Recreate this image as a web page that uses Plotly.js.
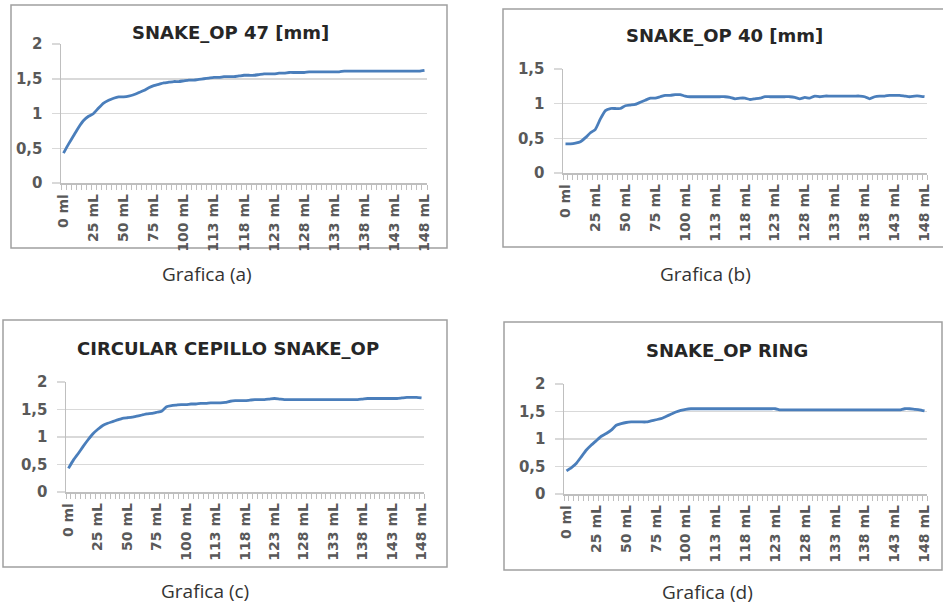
<!DOCTYPE html>
<html>
<head>
<meta charset="utf-8">
<script src="https://cdn.plot.ly/plotly-3.0.1.min.js"></script>
<style>html,body{margin:0;padding:0;background:#fff;}#chart{width:943px;height:607px;}</style>
</head>
<body>
<div id="chart"></div>
<script>
// ---- data ----
const tickLabels = ["0 ml","25 mL","50 mL","75 mL","100 mL","113 mL","118 mL","123 mL","128 mL","133 mL","138 mL","143 mL","148 mL"];
const tickIdx = [0,6,12,18,24,30,36,42,48,54,60,66,72];

const snakeOp47 = [0.43,0.56,0.68,0.80,0.90,0.96,1.00,1.08,1.15,1.19,1.22,1.24,1.24,1.25,1.27,1.30,1.33,1.37,1.40,1.42,
  1.44,1.45,1.46,1.46,1.47,1.48,1.48,1.49,1.50,1.51,1.52,1.52,1.53,1.53,1.53,1.54,1.55,1.55,1.55,1.56,
  1.57,1.57,1.57,1.58,1.58,1.59,1.59,1.59,1.59,1.60,1.60,1.60,1.60,1.60,1.60,1.60,1.61,1.61,1.61,1.61,
  1.61,1.61,1.61,1.61,1.61,1.61,1.61,1.61,1.61,1.61,1.61,1.61,1.62];

const snakeOp40 = [0.42,0.42,0.43,0.45,0.51,0.58,0.63,0.78,0.90,0.93,0.93,0.93,0.97,0.98,0.99,1.02,1.05,1.08,1.08,1.10,
  1.12,1.12,1.13,1.13,1.11,1.10,1.10,1.10,1.10,1.10,1.10,1.10,1.10,1.09,1.07,1.08,1.08,1.06,1.07,1.08,
  1.10,1.10,1.10,1.10,1.10,1.10,1.09,1.07,1.09,1.08,1.11,1.10,1.11,1.11,1.11,1.11,1.11,1.11,1.11,1.11,
  1.10,1.07,1.10,1.11,1.11,1.12,1.12,1.12,1.11,1.10,1.11,1.11,1.10];

const circularCepillo = [0.43,0.58,0.70,0.83,0.95,1.06,1.14,1.21,1.25,1.28,1.31,1.34,1.35,1.36,1.38,1.40,1.42,1.43,1.45,1.47,
  1.55,1.57,1.58,1.59,1.59,1.60,1.60,1.61,1.61,1.62,1.62,1.62,1.63,1.65,1.66,1.66,1.66,1.67,1.68,1.68,
  1.68,1.69,1.70,1.69,1.68,1.68,1.68,1.68,1.68,1.68,1.68,1.68,1.68,1.68,1.68,1.68,1.68,1.68,1.68,1.68,
  1.69,1.70,1.70,1.70,1.70,1.70,1.70,1.70,1.71,1.72,1.72,1.72,1.71];

const snakeOpRing = [0.42,0.48,0.56,0.68,0.80,0.89,0.97,1.05,1.10,1.16,1.25,1.28,1.30,1.31,1.31,1.31,1.31,1.33,1.35,1.37,
  1.41,1.45,1.49,1.52,1.54,1.55,1.55,1.55,1.55,1.55,1.55,1.55,1.55,1.55,1.55,1.55,1.55,1.55,1.55,1.55,
  1.55,1.55,1.55,1.53,1.53,1.53,1.53,1.53,1.53,1.53,1.53,1.53,1.53,1.53,1.53,1.53,1.53,1.53,1.53,1.53,
  1.53,1.53,1.53,1.53,1.53,1.53,1.53,1.53,1.55,1.55,1.54,1.53,1.51];

const panelTitles = ["SNAKE_OP 47 [mm]","SNAKE_OP 40 [mm]","CIRCULAR CEPILLO SNAKE_OP","SNAKE_OP RING"];
const captions = ["Grafica (a)","Grafica (b)","Grafica (c)","Grafica (d)"];
const series = [snakeOp47, snakeOp40, circularCepillo, snakeOpRing];
const yMax = [2, 1.5, 2, 2];

// ---- layout geometry (pixels) ----
const W = 943, H = 607;
const px = v => v / W;
const py = v => 1 - v / H;
const plots = [
  {x0:61,  x1:427, y0:44,  y1:183},
  {x0:563, x1:927, y0:69,  y1:173},
  {x0:66,  x1:424, y0:382, y1:492},
  {x0:564, x1:927, y0:384, y1:494}
];
const boxes = [
  {x0:11, x1:447, y0:5,   y1:248},
  {x0:503,x1:950, y0:9,   y1:247},
  {x0:3,  x1:447, y0:320, y1:567},
  {x0:504,x1:942, y0:322, y1:570}
];
const titlePos = [[230,33],[724,35],[228,348],[727,350]];
const capPos = [[207,274],[705,274],[205,591],[707,592]];

const lineColor = '#4a7ebb';
const gridC = '#d9d9d9';
const axC = '#bfbfbf';
const labelC = '#595959';

const traces = [];
const layout = {
  width: W, height: H,
  margin: {l:0, r:0, t:0, b:0},
  paper_bgcolor: '#fff', plot_bgcolor: 'rgba(0,0,0,0)',
  showlegend: false,
  separators: ',.',
  shapes: [], annotations: []
};

series.forEach((ys, k) => {
  const n = k === 0 ? '' : String(k + 1);
  const xs = ys.map((_, i) => i);
  traces.push({
    x: xs, y: ys, type: 'scatter', mode: 'lines',
    line: {color: lineColor, width: 2.8, shape: 'spline', smoothing: 0.4},
    xaxis: 'x' + n, yaxis: 'y' + n, hoverinfo: 'skip'
  });
  const p = plots[k];
  layout['xaxis' + n] = {
    domain: [px(p.x0), px(p.x1)],
    anchor: 'y' + n,
    range: [-0.5, ys.length - 0.5],
    tickmode: 'array', tickvals: tickIdx, ticktext: tickLabels,
    tickangle: -90,
    ticks: 'outside', ticklen: 4, tickcolor: 'rgba(0,0,0,0)',
    tickfont: {family: 'DejaVu Sans', size: 14, color: labelC, weight: 'bold'},
    showgrid: false, zeroline: false,
    showline: true, linecolor: axC, linewidth: 1.5,
    minor: {tickmode: 'linear', tick0: 0.5, dtick: 1, ticks: 'outside', ticklen: 5, tickcolor: axC, tickwidth: 1, showgrid: false},
    fixedrange: true
  };
  layout['yaxis' + n] = {
    domain: [py(p.y1), py(p.y0)],
    anchor: 'x' + n,
    range: [0, yMax[k]],
    tickmode: 'linear', tick0: 0, dtick: 0.5,
    ticks: 'outside', ticklen: 8, tickcolor: gridC, tickwidth: 1.5,
    ticklabelstandoff: 6,
    tickfont: {family: 'DejaVu Sans', size: 15, color: labelC, weight: 'bold'},
    showgrid: true, gridcolor: gridC, gridwidth: 1.5,
    zeroline: false,
    showline: true, linecolor: axC, linewidth: 1.5,
    fixedrange: true
  };
  const b = boxes[k];
  layout.shapes.push({
    type: 'rect', xref: 'paper', yref: 'paper',
    x0: px(b.x0), x1: px(b.x1), y0: py(b.y1), y1: py(b.y0),
    line: {color: '#a0a0a0', width: 1.5}, fillcolor: 'rgba(0,0,0,0)', layer: 'below'
  });
  layout.annotations.push({
    text: panelTitles[k], xref: 'paper', yref: 'paper',
    x: px(titlePos[k][0]), y: py(titlePos[k][1]), xanchor: 'center', yanchor: 'middle',
    showarrow: false,
    font: {family: 'DejaVu Sans', size: 18, color: '#262626', weight: 'bold'}
  });
  layout.annotations.push({
    text: captions[k], xref: 'paper', yref: 'paper',
    x: px(capPos[k][0]), y: py(capPos[k][1]), xanchor: 'center', yanchor: 'middle',
    showarrow: false,
    font: {family: 'Open Sans', size: 19, color: '#333333'}
  });
});

Plotly.newPlot('chart', traces, layout, {staticPlot: true, displayModeBar: false});
</script>
</body>
</html>
